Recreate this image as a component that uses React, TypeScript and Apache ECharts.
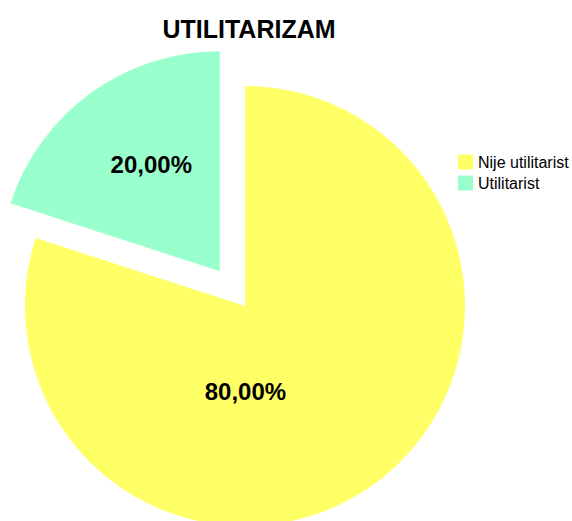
import React, { useEffect, useRef } from "react";
import * as echarts from "echarts";

const categories = ["Nije utilitarist", "Utilitarist"];
const values = [80, 20];
const colors = ["#ffff66", "#99ffcc"];
const labelTexts = ["80,00%", "20,00%"];

export default function App() {
  const ref = useRef<HTMLDivElement>(null);
  useEffect(() => {
    if (!ref.current) return;
    const chart = echarts.init(ref.current, undefined, { renderer: "svg" });
    const offsets = [[-66, -6], [-2, -15]];
    chart.setOption({
      animation: false,
      backgroundColor: "#ffffff",
      title: {
        text: "UTILITARIZAM",
        left: 244,
        top: 11,
        textAlign: "center",
        textStyle: { fontFamily: "Liberation Sans", fontWeight: "bold", fontSize: 25, color: "#000" },
      },
      legend: {
        orient: "vertical",
        left: 458,
        top: 154,
        padding: 0,
        itemWidth: 15,
        itemHeight: 15,
        itemGap: 5,
        icon: "rect",
        selectedMode: false,
        textStyle: { fontFamily: "Liberation Sans", fontSize: 16, color: "#000" },
        data: categories,
      },
      series: [
        {
          type: "pie",
          center: [245, 306],
          radius: 220,
          startAngle: 90,
          clockwise: true,
          selectedMode: "single",
          selectedOffset: 43,
          label: {
            show: true,
            position: "inside",
            fontFamily: "Liberation Sans",
            fontWeight: "bold",
            fontSize: 24,
            color: "#000",
            formatter: (p: any) => labelTexts[p.dataIndex],
          },
          labelLine: { show: false },
          emphasis: { disabled: true },
          data: categories.map((c, i) => ({
            name: c,
            value: values[i],
            selected: i === 1,
            itemStyle: { color: colors[i] },
            label: { offset: offsets[i] },
            select: { label: { offset: offsets[i] }, itemStyle: { color: colors[i] } },
          })),
        },
      ],
    });
    return () => chart.dispose();
  }, []);
  return <div ref={ref} style={{ position: "fixed", left: 0, top: 0, width: 572, height: 521 }} />;
}
